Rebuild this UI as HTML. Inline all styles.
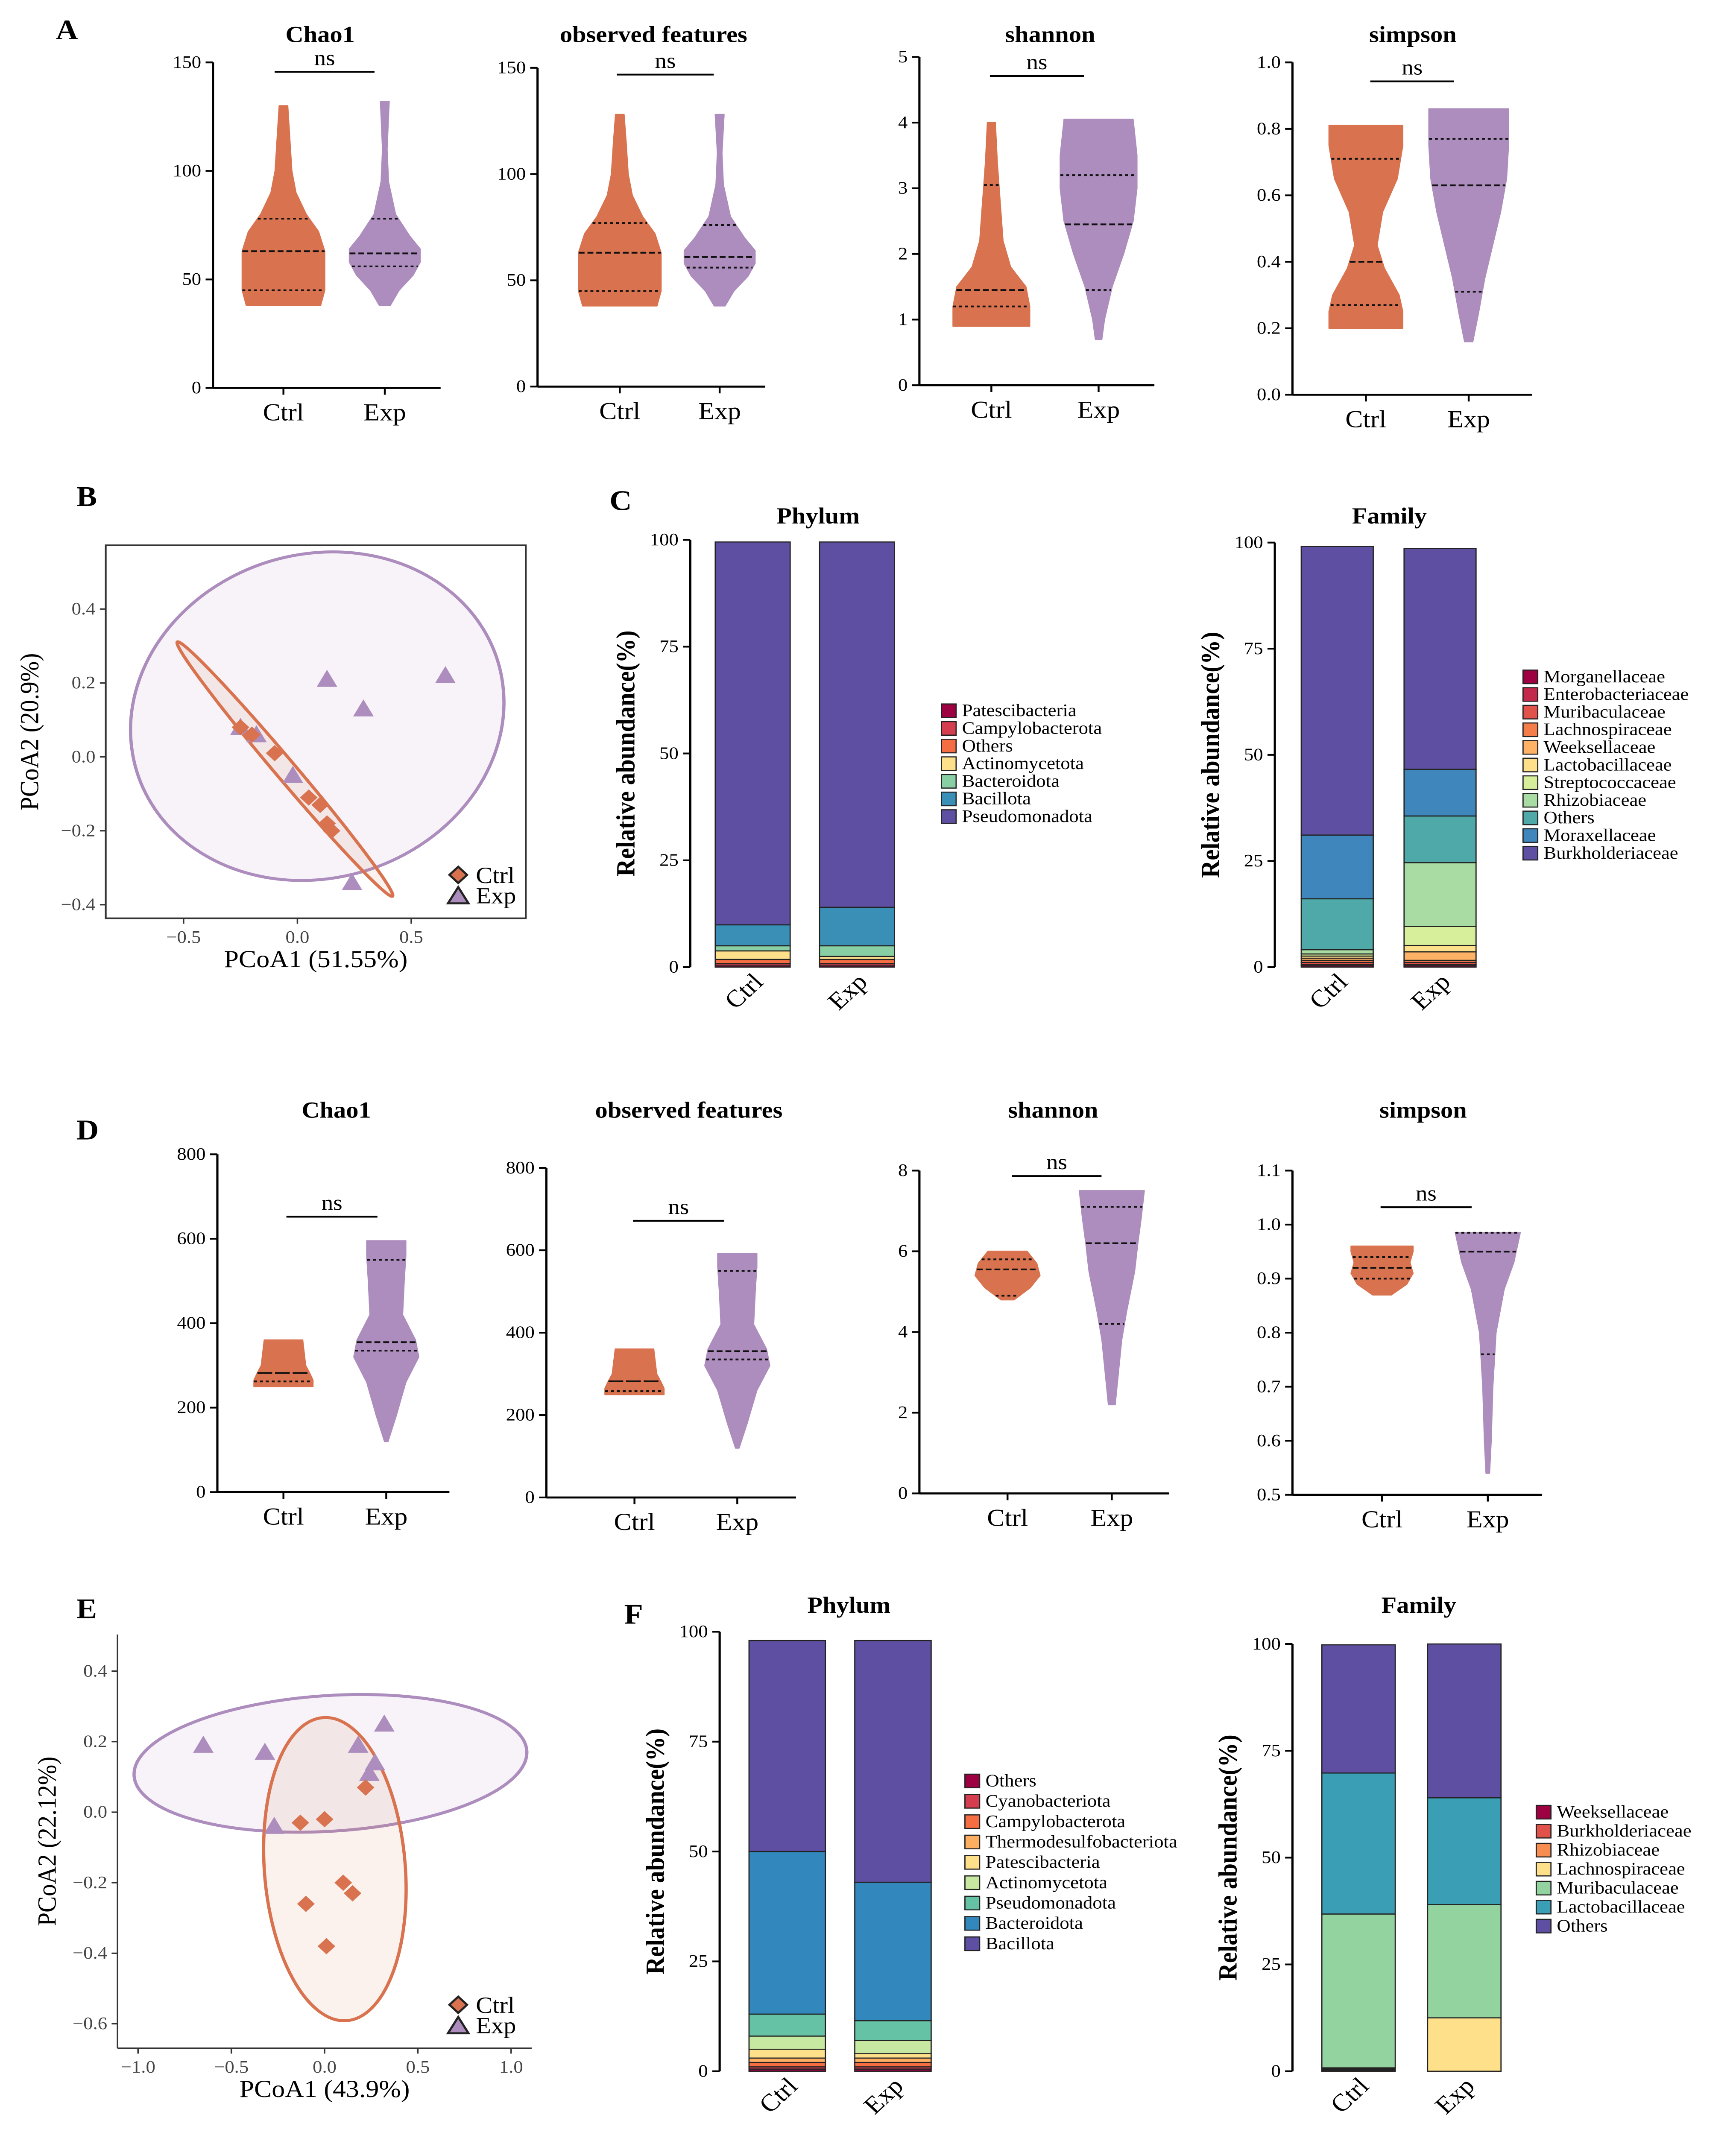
<!DOCTYPE html>
<html><head><meta charset="utf-8"><style>
html,body{margin:0;padding:0;background:#fff;overflow:hidden;width:100vw;height:100vh}
svg{display:block;font-family:"Liberation Serif",serif;width:100vw;height:100vh}
</style></head><body>
<svg id="fig" viewBox="0 0 1182 1574" preserveAspectRatio="none" xmlns="http://www.w3.org/2000/svg">
<rect width="1182" height="1574" fill="#fff"/>
<g font-weight="bold" font-size="21" fill="#000">
<text x="38" y="29">A</text>
<text x="52" y="373">B</text>
<text x="415" y="376">C</text>
<text x="52" y="840">D</text>
<text x="52" y="1193">E</text>
<text x="425" y="1197">F</text>
</g>
<g id="plots"></g>
</svg>
<script>
const CTRL='#d9734f', EXP='#ad8dbd';
// ---- Panel A violin data ----
const A_chao1_ctrl_vals=[38,45,55,63,72,80,90,100,115,130];
const A_chao1_ctrl_dens=[0.9,1,1,1,0.85,0.55,0.3,0.2,0.15,0.1];
const A_chao1_ctrl_q=[45,63,78];
const A_chao1_exp_vals=[38,45,52,58,64,70,80,95,110,125,132];
const A_chao1_exp_dens=[0.15,0.4,0.8,1,1,0.7,0.3,0.1,0.06,0.1,0.12];
const A_chao1_exp_q=[56,62,78];
const A_obs_ctrl_vals=[38,45,55,63,72,80,90,100,115,128];
const A_obs_ctrl_dens=[0.9,1,1,1,0.85,0.55,0.3,0.2,0.15,0.1];
const A_obs_ctrl_q=[45,63,77];
const A_obs_exp_vals=[38,45,52,58,64,70,80,95,110,122,128];
const A_obs_exp_dens=[0.15,0.4,0.8,1,1,0.7,0.3,0.1,0.06,0.1,0.12];
const A_obs_exp_q=[56,61,76];
const A_sha_ctrl_vals=[0.9,1.2,1.5,1.8,2.2,2.6,3.0,3.4,4.0];
const A_sha_ctrl_dens=[1,1,0.9,0.5,0.3,0.25,0.2,0.15,0.1];
const A_sha_ctrl_q=[1.2,1.45,3.05];
const A_sha_exp_vals=[0.7,1.0,1.5,2.0,2.5,3.0,3.5,4.05];
const A_sha_exp_dens=[0.08,0.15,0.35,0.65,0.9,1,1,0.9];
const A_sha_exp_q=[1.45,2.45,3.2];
const A_sim_ctrl_vals=[0.2,0.25,0.3,0.38,0.45,0.55,0.65,0.75,0.81];
const A_sim_ctrl_dens=[1,1,0.9,0.5,0.3,0.45,0.85,1,1];
const A_sim_ctrl_q=[0.27,0.4,0.71];
const A_sim_exp_vals=[0.16,0.25,0.35,0.45,0.55,0.65,0.75,0.86];
const A_sim_exp_dens=[0.1,0.25,0.4,0.6,0.8,0.95,1,1];
const A_sim_exp_q=[0.31,0.63,0.77];
// ---- Panel D violin data ----
const D_chao1_ctrl_vals=[250,265,280,300,330,360];
const D_chao1_ctrl_dens=[1,1,0.9,0.75,0.7,0.65];
const D_chao1_ctrl_q=[262,282,282];
const D_chao1_exp_vals=[120,180,260,320,360,420,500,560,595];
const D_chao1_exp_dens=[0.05,0.3,0.6,1,0.9,0.5,0.55,0.6,0.6];
const D_chao1_exp_q=[335,355,550];
const D_obs_ctrl_vals=[250,265,280,300,330,360];
const D_obs_ctrl_dens=[1,1,0.9,0.75,0.7,0.65];
const D_obs_ctrl_q=[258,282,282];
const D_obs_exp_vals=[120,180,260,320,360,420,500,560,592];
const D_obs_exp_dens=[0.05,0.3,0.6,1,0.9,0.5,0.55,0.6,0.6];
const D_obs_exp_q=[335,355,550];
const D_sha_ctrl_vals=[4.8,5.1,5.4,5.7,6.0];
const D_sha_ctrl_dens=[0.2,0.7,1,0.9,0.6];
const D_sha_ctrl_q=[4.9,5.55,5.8];
const D_sha_exp_vals=[2.2,3,3.8,4.5,5.5,6.2,6.8,7.5];
const D_sha_exp_dens=[0.1,0.2,0.3,0.45,0.7,0.8,0.9,1];
const D_sha_exp_q=[4.2,6.2,7.1];
const D_sim_ctrl_vals=[0.87,0.89,0.91,0.93,0.95,0.96];
const D_sim_ctrl_dens=[0.3,0.8,1,0.9,1,1];
const D_sim_ctrl_q=[0.90,0.92,0.94];
const D_sim_exp_vals=[0.54,0.6,0.7,0.8,0.88,0.93,0.985];
const D_sim_exp_dens=[0.05,0.1,0.15,0.25,0.5,0.8,1];
const D_sim_exp_q=[0.76,0.95,0.985];
// ---- PCoA data ----
const B_ctrl_x=[-0.25,-0.2,-0.1,0.05,0.1,0.13,0.15];
const B_ctrl_y=[0.08,0.06,0.01,-0.11,-0.13,-0.18,-0.2];
const B_exp_x=[0.13,0.29,0.65,-0.02,-0.25,-0.18,0.24];
const B_exp_y=[0.21,0.13,0.22,-0.05,0.08,0.06,-0.34];
const E_ctrl_x=[-0.13,0,0.22,0.1,0.15,-0.1,0.01];
const E_ctrl_y=[-0.03,-0.02,0.07,-0.2,-0.23,-0.26,-0.38];
const E_exp_x=[-0.65,-0.32,0.18,0.32,0.27,0.24,-0.27];
const E_exp_y=[0.19,0.17,0.19,0.25,0.14,0.11,-0.04];
// ---- Stacked bar data ----
const C_phy_names=['Patescibacteria','Campylobacterota','Others','Actinomycetota','Bacteroidota','Bacillota','Pseudomonadota'];
const C_phy_colors=['#9e0142','#d53e4f','#f46d43','#fee08b','#88cfa4','#3a8fb7','#5e4fa2'];
const C_phy_ctrl=[0.3,0.5,1,2,1.2,4.9,89.6];
const C_phy_exp=[0.3,0.5,1,0.7,2.5,9,85.5];
const C_fam_names=['Morganellaceae','Enterobacteriaceae','Muribaculaceae','Lachnospiraceae','Weeksellaceae','Lactobacillaceae','Streptococcaceae','Rhizobiaceae','Others','Moraxellaceae','Burkholderiaceae'];
const C_fam_colors=['#9e0142','#c2294a','#e1524a','#f57d4a','#fdb265','#fee08b','#d7ee9b','#a8dca2','#4fa9a8','#3f86bd','#5e4fa2'];
const C_fam_ctrl=[0.3,0.3,0.5,0.5,0.5,0.5,0.5,1,12,15,68];
const C_fam_exp=[0.3,0.3,0.5,0.5,2,1.5,4.5,15,11,11,52];
const F_phy_names=['Others','Cyanobacteriota','Campylobacterota','Thermodesulfobacteriota','Patescibacteria','Actinomycetota','Pseudomonadota','Bacteroidota','Bacillota'];
const F_phy_colors=['#9e0142','#d53e4f','#f46d43','#fdae61','#fee08b','#c7e8a0','#66c2a5','#3288bd','#5e4fa2'];
const F_phy_ctrl=[0.5,0.5,1,1,2,3,5,37,48];
const F_phy_exp=[0.5,0.5,1,1,1,3,4.5,31.5,55];
const F_fam_names=['Weeksellaceae','Burkholderiaceae','Rhizobiaceae','Lachnospiraceae','Muribaculaceae','Lactobacillaceae','Others'];
const F_fam_colors=['#9e0142','#e1524a','#f88d52','#fee08b','#93d3a0','#3a9fb5','#5e4fa2'];
const F_fam_ctrl=[0.2,0.2,0.2,0.2,36,33,30];
const F_fam_exp=[0,0,0,12.5,26.5,25,36];

const NS='http://www.w3.org/2000/svg';
const root=document.getElementById('plots');
function el(tag,attrs,parent,txt){const e=document.createElementNS(NS,tag);for(const k in attrs)e.setAttribute(k,attrs[k]);if(txt!==undefined)e.textContent=txt;(parent||root).appendChild(e);return e;}
function lin(d0,d1,r0,r1){return v=>r0+(v-d0)/(d1-d0)*(r1-r0);}

function yAxis(g,x,yt,yb,min,max,ticks,fmt){
  const y=lin(min,max,yb,yt);
  const a=el('line',{x1:x,y1:yt,x2:x,y2:yb,stroke:'#000','stroke-width':1.5},g);
  
  ticks.forEach(t=>{
    el('line',{x1:x-5,y1:y(t),x2:x,y2:y(t),stroke:'#000','stroke-width':1.3},g);
    const tx=el('text',{x:x-8,y:y(t)+4,'font-size':13,'text-anchor':'end'},g,fmt(t));
    
  });
  return y;
}
function violin(g,cx,y,vals,dens,q,half,color,name){
  let L=[],R=[];
  vals.forEach((v,i)=>{L.push([cx-dens[i]*half,y(v)]);R.push([cx+dens[i]*half,y(v)]);});
  const pts=L.concat(R.reverse()).map(p=>p.join(',')).join(' ');
  const p=el('polygon',{points:pts,fill:color,stroke:color,'stroke-width':1,'stroke-linejoin':'round'},g);
  
  function wAt(v){for(let i=0;i<vals.length-1;i++){if(v>=vals[i]&&v<=vals[i+1]){const t=(v-vals[i])/(vals[i+1]-vals[i]);return (dens[i]+(dens[i+1]-dens[i])*t)*half;}}return dens[dens.length-1]*half;}
  q.forEach((v,i)=>{const w=wAt(v);el('line',{x1:cx-w,y1:y(v),x2:cx+w,y2:y(v),stroke:'#111','stroke-width':1.3,'stroke-dasharray':i==1?'4,2':'2,2'},g);});
}
function violinPlot(o){
  const g=el('g',{});
  
  const t=el('text',{x:o.tx,y:o.ty,'font-size':17,'font-weight':'bold','text-anchor':'middle'},g,o.title);
  
  const y=yAxis(g,o.x,o.yt,o.yb,o.min,o.max,o.ticks,o.fmt||(v=>v));
  el('line',{x1:o.x,y1:o.yb,x2:o.x+o.xl,y2:o.yb,stroke:'#000','stroke-width':1.5},g);
  [[o.cc,'Ctrl'],[o.ce,'Exp']].forEach(([cx,lab])=>{
    el('line',{x1:cx,y1:o.yb,x2:cx,y2:o.yb+5,stroke:'#000','stroke-width':1.3},g);
    const l=el('text',{x:cx,y:o.yb+24,'font-size':18,'text-anchor':'middle'},g,lab);
    
  });
  violin(g,o.cc,y,o.cv,o.cd,o.cq,o.hc,CTRL,'violin-ctrl');
  violin(g,o.ce,y,o.ev,o.ed,o.eq,o.he,EXP,'violin-exp');
  el('line',{x1:o.n0,y1:o.ny,x2:o.n1,y2:o.ny,stroke:'#000','stroke-width':1.3},g);
  const n=el('text',{x:(o.n0+o.n1)/2,y:o.ny-5,'font-size':16,'text-anchor':'middle'},g,'ns');
  
}
const f1=v=>v.toFixed(1);
violinPlot({name:'a-chao1-violin',title:'Chao1',tx:218,ty:31,x:145,yt:46,yb:286,min:0,max:150,ticks:[0,50,100,150],xl:155,cc:193,ce:262,cv:A_chao1_ctrl_vals,cd:A_chao1_ctrl_dens,cq:A_chao1_ctrl_q,hc:28,ev:A_chao1_exp_vals,ed:A_chao1_exp_dens,eq:A_chao1_exp_q,he:24,n0:187,n1:255,ny:53});
violinPlot({name:'a-observed-violin',title:'observed features',tx:445,ty:31,x:366,yt:50,yb:285,min:0,max:150,ticks:[0,50,100,150],xl:155,cc:422,ce:490,cv:A_obs_ctrl_vals,cd:A_obs_ctrl_dens,cq:A_obs_ctrl_q,hc:28,ev:A_obs_exp_vals,ed:A_obs_exp_dens,eq:A_obs_exp_q,he:24,n0:420,n1:486,ny:55});
violinPlot({name:'a-shannon-violin',title:'shannon',tx:715,ty:31,x:626,yt:42,yb:284,min:0,max:5,ticks:[0,1,2,3,4,5],xl:160,cc:675,ce:748,cv:A_sha_ctrl_vals,cd:A_sha_ctrl_dens,cq:A_sha_ctrl_q,hc:26,ev:A_sha_exp_vals,ed:A_sha_exp_dens,eq:A_sha_exp_q,he:26,n0:674,n1:738,ny:56});
violinPlot({name:'a-simpson-violin',title:'simpson',tx:962,ty:31,x:880,yt:46,yb:291,min:0,max:1,ticks:[0,0.2,0.4,0.6,0.8,1.0],fmt:f1,xl:163,cc:930,ce:1000,cv:A_sim_ctrl_vals,cd:A_sim_ctrl_dens,cq:A_sim_ctrl_q,hc:25,ev:A_sim_exp_vals,ed:A_sim_exp_dens,eq:A_sim_exp_q,he:27,n0:933,n1:990,ny:60});

violinPlot({name:'d-chao1-violin',title:'Chao1',tx:229,ty:824,x:148,yt:851,yb:1100,min:0,max:800,ticks:[0,200,400,600,800],xl:158,cc:193,ce:263,cv:D_chao1_ctrl_vals,cd:D_chao1_ctrl_dens,cq:D_chao1_ctrl_q,hc:20,ev:D_chao1_exp_vals,ed:D_chao1_exp_dens,eq:D_chao1_exp_q,he:22,n0:195,n1:257,ny:897});
violinPlot({name:'d-observed-violin',title:'observed features',tx:469,ty:824,x:372,yt:861,yb:1104,min:0,max:800,ticks:[0,200,400,600,800],xl:170,cc:432,ce:502,cv:D_obs_ctrl_vals,cd:D_obs_ctrl_dens,cq:D_obs_ctrl_q,hc:20,ev:D_obs_exp_vals,ed:D_obs_exp_dens,eq:D_obs_exp_q,he:22,n0:431,n1:493,ny:900});
violinPlot({name:'d-shannon-violin',title:'shannon',tx:717,ty:824,x:626,yt:863,yb:1101,min:0,max:8,ticks:[0,2,4,6,8],xl:170,cc:686,ce:757,cv:D_sha_ctrl_vals,cd:D_sha_ctrl_dens,cq:D_sha_ctrl_q,hc:22,ev:D_sha_exp_vals,ed:D_sha_exp_dens,eq:D_sha_exp_q,he:22,n0:689,n1:750,ny:867});
violinPlot({name:'d-simpson-violin',title:'simpson',tx:969,ty:824,x:880,yt:863,yb:1102,min:0.5,max:1.1,ticks:[0.5,0.6,0.7,0.8,0.9,1.0,1.1],fmt:f1,xl:170,cc:941,ce:1013,cv:D_sim_ctrl_vals,cd:D_sim_ctrl_dens,cq:D_sim_ctrl_q,hc:21,ev:D_sim_exp_vals,ed:D_sim_exp_dens,eq:D_sim_exp_q,he:22,n0:940,n1:1002,ny:890});

// ---- PCoA ----
function diamond(g,x,y,name){const s=6;const p=el('polygon',{points:`${x},${y-s} ${x+s},${y} ${x},${y+s} ${x-s},${y}`,fill:CTRL},g);}
function tri(g,x,y,name){const s=7;const p=el('polygon',{points:`${x},${y-s} ${x+s},${y+s*0.8} ${x-s},${y+s*0.8}`,fill:EXP},g);}
function pcoa(o){
  const g=el('g',{});
  const X=lin(o.xd[0],o.xd[1],o.xr[0],o.xr[1]), Y=lin(o.yd[0],o.yd[1],o.yr[0],o.yr[1]);
  if(o.frame) el('rect',{x:o.bx,y:o.by,width:o.bw,height:o.bh,fill:'none',stroke:'#333','stroke-width':1.2},g);
  else{el('line',{x1:o.bx,y1:o.by,x2:o.bx,y2:o.by+o.bh,stroke:'#333','stroke-width':1},g);el('line',{x1:o.bx,y1:o.by+o.bh,x2:o.bx+o.bw,y2:o.by+o.bh,stroke:'#333','stroke-width':1},g);}
  o.ellipses.forEach(e=>{const c=el('ellipse',{cx:e[0],cy:e[1],rx:e[2],ry:e[3],transform:`rotate(${e[4]} ${e[0]} ${e[1]})`,fill:e[5],'fill-opacity':0.1,stroke:e[5],'stroke-width':2.2},g);});
  o.xt.forEach(t=>{el('line',{x1:X(t),y1:o.by+o.bh,x2:X(t),y2:o.by+o.bh+4,stroke:'#333'},g);const tx=el('text',{x:X(t),y:o.by+o.bh+18,'font-size':13,'text-anchor':'middle',fill:'#444'},g,t.toFixed(1).replace('-','−'));});
  o.yt.forEach(t=>{el('line',{x1:o.bx-4,y1:Y(t),x2:o.bx,y2:Y(t),stroke:'#333'},g);const tx=el('text',{x:o.bx-7,y:Y(t)+4,'font-size':13,'text-anchor':'end',fill:'#444'},g,t.toFixed(1).replace('-','−'));});
  o.ex.forEach((v,i)=>tri(g,X(v),Y(o.ey[i]),'exp-point'));
  o.cx.forEach((v,i)=>diamond(g,X(v),Y(o.cy[i]),'ctrl-point'));
  const xl=el('text',{x:o.bx+o.bw/2,y:o.by+o.bh+36,'font-size':18,'text-anchor':'middle'},g,o.xlab);
  const yl=el('text',{x:0,y:0,'font-size':18,'text-anchor':'middle',transform:`translate(${o.ylx},${o.by+o.bh/2}) rotate(-90)`},g,o.ylab);
  const lg=el('g',{},g);
  el('polygon',{points:`${o.lx},${o.ly-6} ${o.lx+6},${o.ly} ${o.lx},${o.ly+6} ${o.lx-6},${o.ly}`,fill:CTRL,stroke:'#222','stroke-width':1.5},lg);
  el('polygon',{points:`${o.lx},${o.ly+9} ${o.lx+7},${o.ly+21} ${o.lx-7},${o.ly+21}`,fill:EXP,stroke:'#222','stroke-width':1.5},lg);
  el('text',{x:o.lx+12,y:o.ly+6,'font-size':17},lg,'Ctrl');el('text',{x:o.lx+12,y:o.ly+21,'font-size':17},lg,'Exp');
}
pcoa({name:'b-pcoa-plot',frame:true,bx:72,by:402,bw:286,bh:275,xd:[-0.5,0.5],xr:[125,280],yd:[0.4,-0.4],yr:[449,667],xt:[-0.5,0,0.5],yt:[0.4,0.2,0,-0.2,-0.4],
 ellipses:[[216,528,130,118,-30,EXP],[194,567,119,7,52,CTRL]],cx:B_ctrl_x,cy:B_ctrl_y,ex:B_exp_x,ey:B_exp_y,xlab:'PCoA1 (51.55%)',ylab:'PCoA2 (20.9%)',ylx:26,lx:312,ly:645});
pcoa({name:'e-pcoa-plot',frame:false,bx:80,by:1205,bw:282,bh:305,xd:[-1,1],xr:[94,348],yd:[0.4,-0.6],yr:[1232,1492],xt:[-1,-0.5,0,0.5,1],yt:[0.4,0.2,0,-0.2,-0.4,-0.6],
 ellipses:[[225,1300,134,50,-4,EXP],[228,1378,48,112,-4,CTRL]],cx:E_ctrl_x,cy:E_ctrl_y,ex:E_exp_x,ey:E_exp_y,xlab:'PCoA1 (43.9%)',ylab:'PCoA2 (22.12%)',ylx:38,lx:312,ly:1478});

// ---- Stacked bars ----
function stack(o){
  const g=el('g',{});
  const t=el('text',{x:o.tx,y:o.ty,'font-size':17,'font-weight':'bold','text-anchor':'middle'},g,o.title);
  const y=yAxis(g,o.x,o.yt,o.yb,0,100,[0,25,50,75,100],v=>v);
  const yl=el('text',{x:0,y:0,'font-size':18,'font-weight':'bold','text-anchor':'middle',transform:`translate(${o.x-38},${(o.yt+o.yb)/2}) rotate(-90)`},g,'Relative abundance(%)');
  [[o.cx,o.ctrl,'Ctrl'],[o.ex,o.exp,'Exp']].forEach(([bx,vals,lab])=>{
    let acc=0;
    vals.forEach((v,i)=>{const r=el('rect',{x:bx,y:y(acc+v),width:o.w,height:y(acc)-y(acc+v),fill:o.colors[i],stroke:'#222','stroke-width':0.8},g);acc+=v;});
    const l=el('text',{x:0,y:0,'font-size':18,'text-anchor':'end',transform:`translate(${bx+o.w/2+8},${o.yb+12}) rotate(-45)`},g,lab);
  });
  const lg=el('g',{},g);
  o.names.forEach((n,i)=>{const yy=o.ly+i*o.ls;
    const r=el('rect',{x:o.lx,y:yy-9,width:10,height:10,fill:o.colors[i],stroke:'#222','stroke-width':0.8},lg);
    const tt=el('text',{x:o.lx+14,y:yy,'font-size':13},lg,n);});
}
stack({name:'c-phylum-bars',title:'Phylum',tx:557,ty:386,x:470,yt:398,yb:713,cx:487,ex:558,w:51,ctrl:C_phy_ctrl,exp:C_phy_exp,colors:C_phy_colors,names:C_phy_names,lx:641,ly:528,ls:13});
stack({name:'c-family-bars',title:'Family',tx:946,ty:386,x:868,yt:400,yb:713,cx:886,ex:956,w:49,ctrl:C_fam_ctrl,exp:C_fam_exp,colors:C_fam_colors,names:C_fam_names,lx:1037,ly:503,ls:13});
stack({name:'f-phylum-bars',title:'Phylum',tx:578,ty:1189,x:490,yt:1203,yb:1527,cx:510,ex:582,w:52,ctrl:F_phy_ctrl,exp:F_phy_exp,colors:F_phy_colors,names:F_phy_names,lx:657,ly:1317,ls:15});
stack({name:'f-family-bars',title:'Family',tx:966,ty:1189,x:880,yt:1212,yb:1527,cx:900,ex:972,w:50,ctrl:F_fam_ctrl,exp:F_fam_exp,colors:F_fam_colors,names:F_fam_names,lx:1046,ly:1340,ls:14});
</script>
</body></html>
